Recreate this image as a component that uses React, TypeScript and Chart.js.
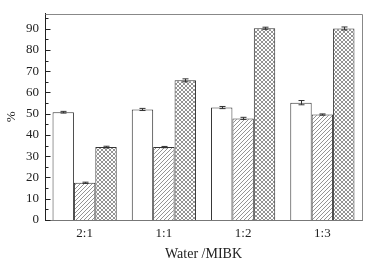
import React, { useEffect, useRef } from "react";
import { Chart, registerables } from "chart.js";

Chart.register(...registerables);

const categories = ["2:1", "1:1", "1:2", "1:3"];
const seriesA = [50.7, 52.0, 52.9, 55.2];
const seriesB = [17.5, 34.3, 47.8, 49.6];
const seriesC = [34.3, 65.7, 90.2, 90.1];
const errA = [0.4, 0.5, 0.5, 1.0];
const errB = [0.3, 0.3, 0.5, 0.3];
const errC = [0.4, 0.7, 0.5, 0.7];
const yTickValues = [0, 10, 20, 30, 40, 50, 60, 70, 80, 90];
const yMinorValues = [5, 15, 25, 35, 45, 55, 65, 75, 85, 95];
const errors = [errA, errB, errC];

function makePattern(size: number, draw: (ctx: CanvasRenderingContext2D, s: number) => void) {
  const c = document.createElement("canvas");
  c.width = size;
  c.height = size;
  const ctx = c.getContext("2d")!;
  ctx.fillStyle = "#ffffff";
  ctx.fillRect(0, 0, size, size);
  draw(ctx, size);
  return ctx.createPattern(c, "repeat")!;
}

function diag(ctx: CanvasRenderingContext2D, s: number, dir: number) {
  ctx.beginPath();
  for (let k = -1; k <= 1; k++) {
    if (dir > 0) {
      ctx.moveTo(k * s - 1, s + 1);
      ctx.lineTo(k * s + s + 1, -1);
    } else {
      ctx.moveTo(k * s - 1, -1);
      ctx.lineTo(k * s + s + 1, s + 1);
    }
  }
  ctx.stroke();
}

const errorBarPlugin = {
  id: "errorBars",
  afterDatasetsDraw(chart: any) {
    const ctx = chart.ctx;
    const y = chart.scales.y;
    ctx.save();
    ctx.strokeStyle = "#333";
    ctx.lineWidth = 1;
    chart.data.datasets.forEach((ds: any, di: number) => {
      const meta = chart.getDatasetMeta(di);
      meta.data.forEach((bar: any, i: number) => {
        const v = ds.data[i];
        const e = errors[di][i];
        const x = Math.round(bar.x) + 0.5;
        const yt = y.getPixelForValue(v + e);
        const yb = y.getPixelForValue(v - e);
        ctx.beginPath();
        ctx.moveTo(x, yt);
        ctx.lineTo(x, yb);
        ctx.moveTo(x - 3, yt);
        ctx.lineTo(x + 3, yt);
        ctx.moveTo(x - 3, yb);
        ctx.lineTo(x + 3, yb);
        ctx.stroke();
      });
    });
    ctx.restore();
  },
};

const framePlugin = {
  id: "frame",
  afterDraw(chart: any) {
    const ctx = chart.ctx;
    const a = chart.chartArea;
    const y = chart.scales.y;
    ctx.save();
    ctx.strokeStyle = "#888";
    ctx.lineWidth = 1;
    ctx.beginPath();
    ctx.moveTo(Math.round(a.left) + 0.5, Math.round(a.top) + 0.5);
    ctx.lineTo(Math.round(a.right) + 0.5, Math.round(a.top) + 0.5);
    ctx.lineTo(Math.round(a.right) + 0.5, Math.round(a.bottom) + 0.5);
    ctx.stroke();
    ctx.strokeStyle = "#222";
    ctx.beginPath();
    const x0 = Math.round(a.left) + 0.5;
    yTickValues.forEach((v) => {
      const py = Math.round(y.getPixelForValue(v)) + 0.5;
      ctx.moveTo(x0, py);
      ctx.lineTo(x0 + 5, py);
    });
    yMinorValues.forEach((v) => {
      const py = Math.round(y.getPixelForValue(v)) + 0.5;
      ctx.moveTo(x0, py);
      ctx.lineTo(x0 + 3, py);
    });
    ctx.stroke();
    ctx.restore();
  },
};

export default function App() {
  const ref = useRef<HTMLCanvasElement>(null);
  useEffect(() => {
    document.body.style.margin = "0";
    const hatch = makePattern(4, (ctx, s) => {
      ctx.strokeStyle = "#666";
      ctx.lineWidth = 0.7;
      diag(ctx, s, 1);
    });
    const cross = makePattern(4, (ctx, s) => {
      ctx.strokeStyle = "#666";
      ctx.lineWidth = 0.7;
      diag(ctx, s, 1);
      diag(ctx, s, -1);
    });
    const font = { family: "'Liberation Serif', 'DejaVu Serif', serif", size: 13 };
    const chart = new Chart(ref.current!, {
      type: "bar",
      data: {
        labels: categories,
        datasets: [
          { data: seriesA, backgroundColor: "#ffffff", borderColor: "#333", borderWidth: 1 },
          { data: seriesB, backgroundColor: hatch, borderColor: "#333", borderWidth: 1 },
          { data: seriesC, backgroundColor: cross, borderColor: "#333", borderWidth: 1 },
        ],
      },
      options: {
        animation: false,
        responsive: false,
        layout: { padding: { left: 0, top: 12, right: 18, bottom: 0 } },
        datasets: { bar: { categoryPercentage: 0.81, barPercentage: 1.0 } },
        plugins: { legend: { display: false }, tooltip: { enabled: false } },
        scales: {
          x: {
            grid: { display: false, drawTicks: false },
            border: { display: true, color: "#777" },
            ticks: { color: "#222", font, padding: 6 },
            title: { display: true, text: "Water /MIBK", color: "#222", font: { ...font, size: 14 }, padding: { top: 1, bottom: 0 } },
            afterFit: (s: any) => { s.height = 43; },
          },
          y: {
            min: 0,
            max: 97,
            grid: { display: false, drawTicks: false },
            border: { display: true, color: "#222" },
            ticks: { color: "#222", font, padding: 6 },
            afterBuildTicks: (s: any) => { s.ticks = yTickValues.map((v) => ({ value: v })); },
            title: { display: true, text: "%", color: "#222", font: { ...font, size: 13 }, padding: { top: 4, bottom: 0 } },
            afterFit: (s: any) => { s.width = 45; },
          },
        },
      },
      plugins: [errorBarPlugin, framePlugin],
    });
    return () => chart.destroy();
  }, []);
  return (
    <div style={{ width: 380, height: 263 }}>
      <canvas ref={ref} width={380} height={263} style={{ display: "block" }} />
    </div>
  );
}
